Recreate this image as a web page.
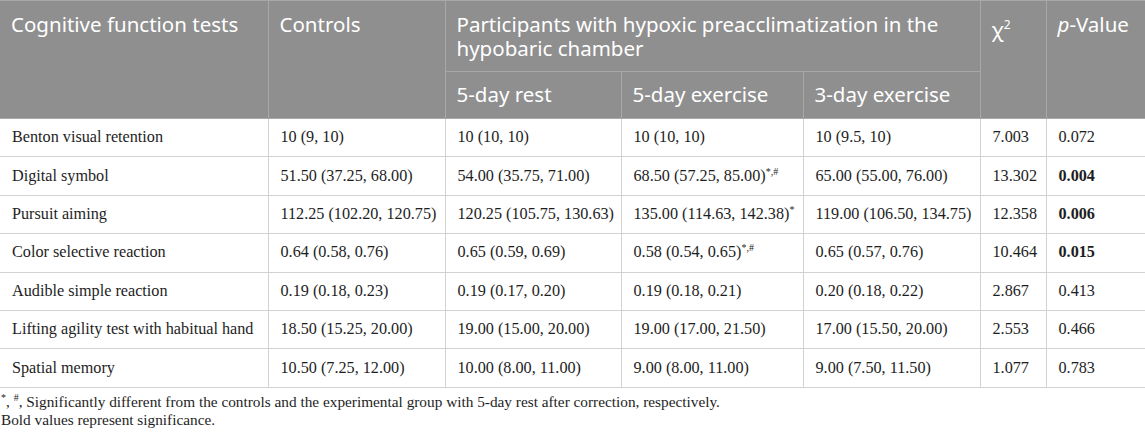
<!DOCTYPE html>
<html>
<head>
<meta charset="utf-8">
<script src="https://cdn.jsdelivr.net/npm/chart.js@4.4.1/dist/chart.umd.min.js"></script>
<style>
  html, body { margin: 0; padding: 0; background: #fff; }
  body { width: 1145px; height: 433px; overflow: hidden; }
  table { border-collapse: collapse; width: 1145px; table-layout: fixed; }
  th { background: #8f8f8f; color: #fff; font-family: "Noto Sans", sans-serif; font-weight: normal;
       font-size: 20.5px; line-height: 23.5px; text-align: left; padding: 0 6px 0 11px;
       border: 1px solid #a8a8a8; }
  th.top { vertical-align: top; padding-top: 12px; }
  td { font-family: "Liberation Serif", serif; font-size: 16.2px; color: #1e1e1e; padding: 0 4px 0 12px;
       border: 1.5px solid #d2d2d2; vertical-align: middle; white-space: nowrap; }
  tbody tr { height: 38.4px; }
  tr > :first-child { border-left: none; }
  tr > :last-child { border-right: none; }
  sup.s { font-size: 10px; line-height: 0; vertical-align: 6px; }
  .foot { font-family: "Liberation Serif", serif; font-size: 15.3px; color: #1e1e1e; margin: 5px 0 0 1px; line-height: 18.3px; }
  b { font-weight: bold; }
</style>
</head>
<body>
<table id="tbl">
  <colgroup id="cols"></colgroup>
  <thead id="head"></thead>
  <tbody id="body"></tbody>
</table>
<div class="foot" id="foot"></div>
<script>
const headers = ["Cognitive function tests", "Controls", "Participants with hypoxic preacclimatization in the hypobaric chamber", "χ<sup style=\"font-size:12px\">2</sup>", "<i>p</i>-Value"];
const subHeaders = ["5-day rest", "5-day exercise", "3-day exercise"];
const tests = ["Benton visual retention", "Digital symbol", "Pursuit aiming", "Color selective reaction", "Audible simple reaction", "Lifting agility test with habitual hand", "Spatial memory"];
const controls = ["10 (9, 10)", "51.50 (37.25, 68.00)", "112.25 (102.20, 120.75)", "0.64 (0.58, 0.76)", "0.19 (0.18, 0.23)", "18.50 (15.25, 20.00)", "10.50 (7.25, 12.00)"];
const rest5 = ["10 (10, 10)", "54.00 (35.75, 71.00)", "120.25 (105.75, 130.63)", "0.65 (0.59, 0.69)", "0.19 (0.17, 0.20)", "19.00 (15.00, 20.00)", "10.00 (8.00, 11.00)"];
const exercise5 = ["10 (10, 10)", "68.50 (57.25, 85.00)", "135.00 (114.63, 142.38)", "0.58 (0.54, 0.65)", "0.19 (0.18, 0.21)", "19.00 (17.00, 21.50)", "9.00 (8.00, 11.00)"];
const exercise5Marks = ["", "*,#", "*", "*,#", "", "", ""];
const exercise3 = ["10 (9.5, 10)", "65.00 (55.00, 76.00)", "119.00 (106.50, 134.75)", "0.65 (0.57, 0.76)", "0.20 (0.18, 0.22)", "17.00 (15.50, 20.00)", "9.00 (7.50, 11.50)"];
const chi2 = ["7.003", "13.302", "12.358", "10.464", "2.867", "2.553", "1.077"];
const pValues = ["0.072", "0.004", "0.006", "0.015", "0.413", "0.466", "0.783"];
const significant = [false, true, true, true, false, false, false];
const footnotes = ["<sup class=\"s\">*</sup>, <sup class=\"s\">#</sup>, Significantly different from the controls and the experimental group with 5-day rest after correction, respectively.", "Bold values represent significance."];

const colWidths = [268, 177, 176, 182, 177, 66, 99];
document.getElementById("cols").innerHTML = colWidths.map(w => `<col style="width:${w}px">`).join("");

document.getElementById("head").innerHTML =
  `<tr style="height:71px">
     <th class="top" rowspan="2">${headers[0]}</th>
     <th class="top" rowspan="2">${headers[1]}</th>
     <th class="top" colspan="3" style="padding-bottom:11px">${headers[2]}</th>
     <th class="top" rowspan="2">${headers[3]}</th>
     <th class="top" rowspan="2">${headers[4]}</th>
   </tr>
   <tr style="height:47px">${subHeaders.map(s => `<th>${s}</th>`).join("")}</tr>`;

document.getElementById("body").innerHTML = tests.map((t, i) => {
  const m = exercise5Marks[i] ? `<sup class="s">${exercise5Marks[i]}</sup>` : "";
  const p = significant[i] ? `<b>${pValues[i]}</b>` : pValues[i];
  return `<tr><td>${t}</td><td>${controls[i]}</td><td>${rest5[i]}</td><td>${exercise5[i]}${m}</td><td>${exercise3[i]}</td><td>${chi2[i]}</td><td>${p}</td></tr>`;
}).join("");

document.getElementById("foot").innerHTML = footnotes.join("<br>");
</script>
</body>
</html>
